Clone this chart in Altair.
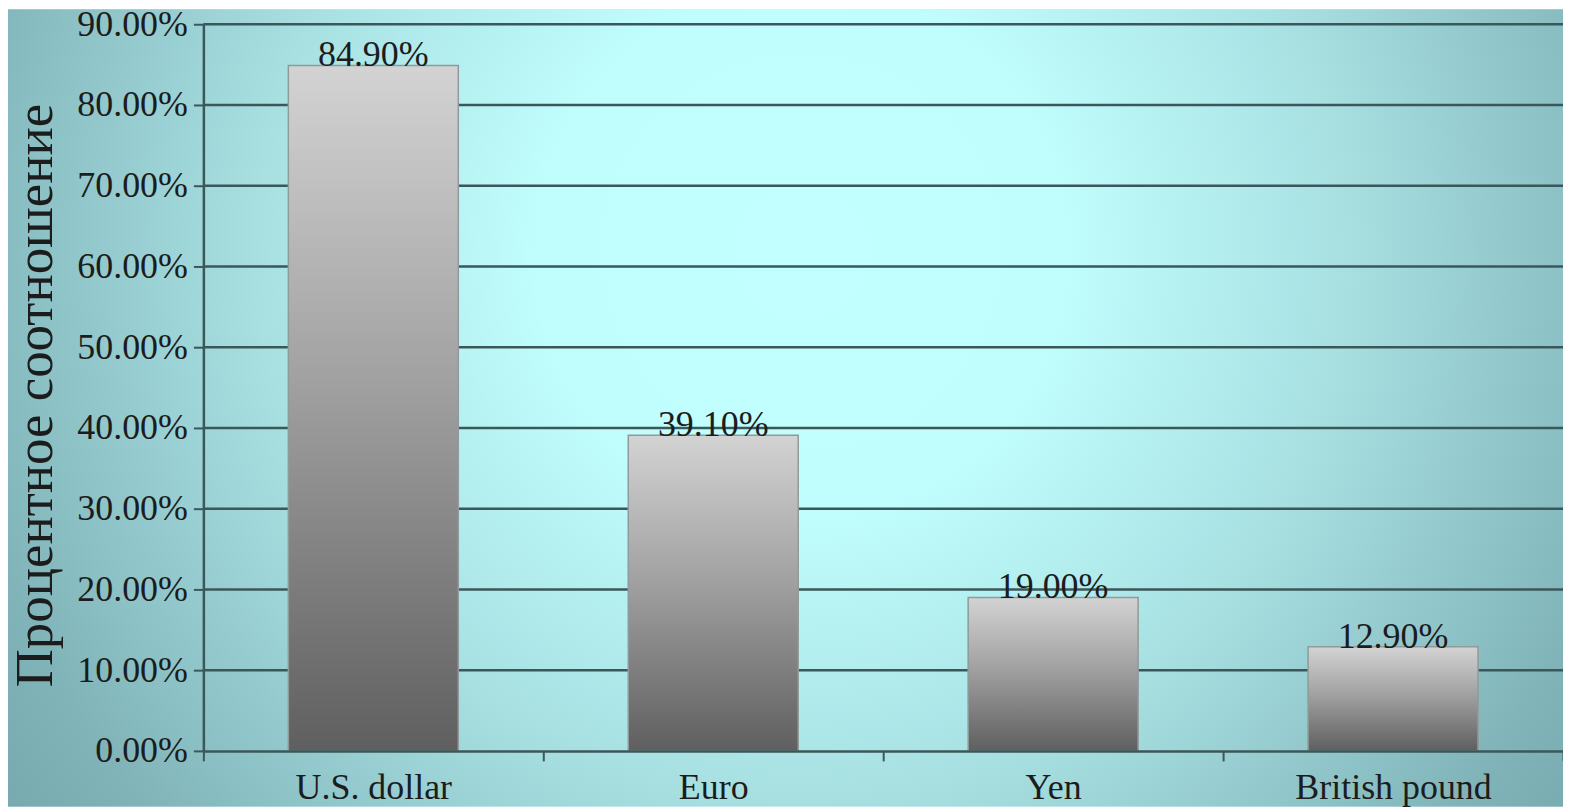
import altair as alt
import pandas as pd

categories = ["U.S. dollar", "Euro", "Yen", "British pound"]
values = [0.849, 0.391, 0.190, 0.129]
y_ticks = [0.0, 0.1, 0.2, 0.3, 0.4, 0.5, 0.6, 0.7, 0.8, 0.9]
grid_values = [0.1, 0.2, 0.3, 0.4, 0.5, 0.6, 0.7, 0.8, 0.9]
y_title = "Процентное соотношение"

df = pd.DataFrame({"category": categories, "value": values})
grid_df = pd.DataFrame({"g": grid_values})

FONT = "Liberation Serif"
LINE = "#3b5759"
TEXT = "#1c1c1c"
W, H = 1364, 729
PL, PT, PR, PB = 196, 15, 0, 56

x_enc = alt.X("category:N", sort=categories, title=None,
              scale=alt.Scale(paddingInner=0, paddingOuter=0),
              axis=alt.Axis(labelAngle=0, tickBand="extent", tickSize=10,
                            labelPadding=10, labelFontSize=36, labelLimit=0,
                            zindex=1))
y_scale = alt.Scale(domain=[0, 0.9], nice=False)

bg = alt.Chart(pd.DataFrame({"k": [0]})).mark_rect(
    fill=alt.RadialGradient(
        gradient="radial", x1=0.51, y1=0.40, r1=0, x2=0.51, y2=0.40, r2=1,
        stops=[
            alt.GradientStop(color="#c2ffff", offset=0),
            alt.GradientStop(color="#c0fdfd", offset=0.17),
            alt.GradientStop(color="#a8e0e2", offset=0.35),
            alt.GradientStop(color="#80b4b9", offset=0.55),
            alt.GradientStop(color="#6e9fa5", offset=0.7),
            alt.GradientStop(color="#62939a", offset=1),
        ]),
).encode(
    x=alt.value(-PL), x2=alt.value(W + PR),
    y=alt.value(-PT), y2=alt.value(H + PB),
)

grid = alt.Chart(grid_df).mark_rule(color=LINE, strokeWidth=2.5).encode(
    y=alt.Y("g:Q", scale=y_scale),
)

bars = alt.Chart(df).mark_bar(
    fill=alt.LinearGradient(
        gradient="linear", x1=0, y1=0, x2=0, y2=1,
        stops=[
            alt.GradientStop(color="#d3d3d3", offset=0),
            alt.GradientStop(color="#a2a2a2", offset=0.45),
            alt.GradientStop(color="#5f5f5f", offset=1),
        ]),
    stroke="#909a9a", strokeWidth=1.5,
    width=alt.RelativeBandSize(0.5),
).encode(
    x=x_enc,
    y=alt.Y("value:Q", scale=y_scale,
            axis=alt.Axis(values=y_ticks, format=".2%", title=y_title,
                          tickSize=10, labelPadding=6, labelFontSize=36,
                          titleFontSize=53, titleX=-152, titleY=372,
                          titleBaseline="alphabetic", zindex=1)),
)

labels = alt.Chart(df).mark_text(
    font=FONT, fontSize=36, baseline="alphabetic", dy=1, color=TEXT,
).encode(
    x=alt.X("category:N", sort=categories),
    y=alt.Y("value:Q", scale=y_scale),
    text=alt.Text("value:Q", format=".2%"),
)

chart = alt.layer(bg, grid, bars, labels).properties(
    width=W, height=H,
    autosize=alt.AutoSizeParams(type="none"),
    padding={"left": PL, "top": PT, "right": PR, "bottom": PB},
).configure_view(stroke=None).configure_axis(
    grid=False,
    domainColor=LINE, domainWidth=2.5, tickColor=LINE, tickWidth=2,
    labelFont=FONT, labelColor=TEXT, titleFont=FONT, titleColor=TEXT,
    titleFontWeight="normal",
)

chart.save("out.html", embed_options={"renderer": "svg", "actions": False})
